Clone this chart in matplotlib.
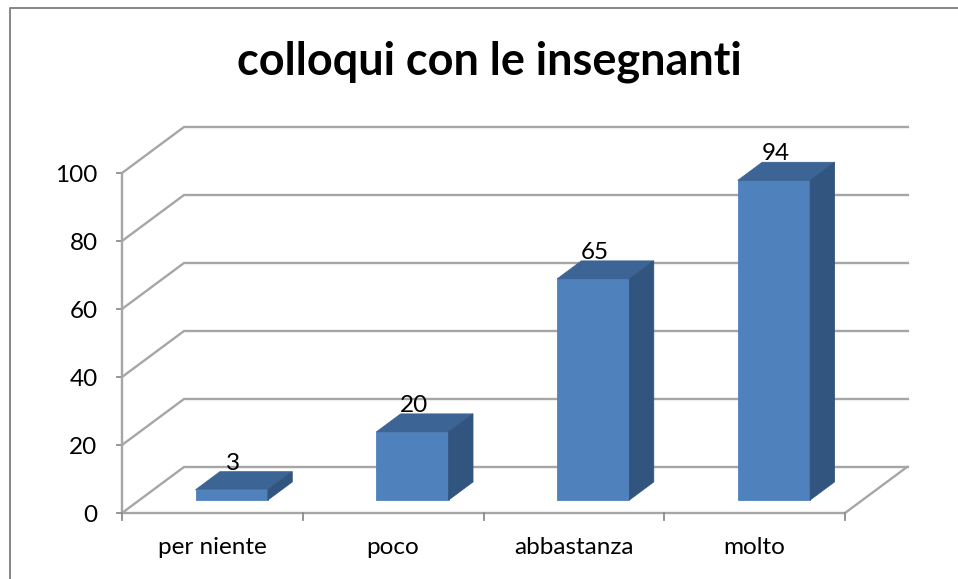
import matplotlib
matplotlib.use("Agg")
import matplotlib.pyplot as plt
from matplotlib.patches import Polygon

categories = ["per niente", "poco", "abbastanza", "molto"]
values = [3, 20, 65, 94]
y_ticks = [0, 20, 40, 60, 80, 100]
title = "colloqui con le insegnanti"

W, H = 958, 579
plt.rcParams["font.family"] = ["Lato", "DejaVu Sans"]
fig = plt.figure(figsize=(W / 100, H / 100), dpi=100)
L, R, B, T = 122, 845, 513, 173
ax = fig.add_axes([L / W, 1 - B / H, (R - L) / W, (B - T) / H])
ax.set_xlim(0, len(categories))
ax.set_ylim(0, 100)
ax.axis("off")

DX = 62 / ((R - L) / len(categories))
DY = 46 / ((B - T) / 100)


def proj(x, v, d):
    return (x + d * DX, v + d * DY)


GRID = "#a6a6a6"
for t in y_ticks:
    pts = [proj(0, t, 0), proj(0, t, 1), proj(len(categories) + 0.005, t, 1)]
    ax.plot(*zip(*pts), color=GRID, lw=1.7, clip_on=False, zorder=1, solid_joinstyle="miter")
    if t == 0:
        pts = [proj(0, 0, 0), proj(len(categories), 0, 0), proj(len(categories), 0, 1)]
        ax.plot(*zip(*pts), color=GRID, lw=1.7, clip_on=False, zorder=1)
    ax.plot([-0.028, 0], [t, t], color="#8c8c8c", lw=1.3, clip_on=False, zorder=1)
    ax.text(-0.135, t - 0.8, str(t), ha="right", va="center", fontsize=17.5, color="black")
ax.plot([0, 0], [0, 100], color=GRID, lw=1.7, clip_on=False, zorder=1)
for i in range(len(categories) + 1):
    ax.plot([i, i], [0, -2.1], color="#8c8c8c", lw=1.3, clip_on=False, zorder=1)
for i, c in enumerate(categories):
    ax.text(i + 0.5, -10.0, c, ha="center", va="center", fontsize=17.5, color="black")

FRONT, TOP, SIDE = "#4f81bd", "#3c6494", "#32557f"
D0, D1 = 0.283, 0.676
BW = 0.4
for i, v in enumerate(values):
    x0, x1 = i + 0.51 - BW / 2, i + 0.51 + BW / 2
    faces = [
        ([proj(x0, 0, D0), proj(x1, 0, D0), proj(x1, v, D0), proj(x0, v, D0)], FRONT),
        ([proj(x0, v, D0), proj(x1, v, D0), proj(x1, v, D1), proj(x0, v, D1)], TOP),
        ([proj(x1, 0, D0), proj(x1, 0, D1), proj(x1, v, D1), proj(x1, v, D0)], SIDE),
    ]
    for p, col in faces:
        ax.add_patch(Polygon(p, closed=True, facecolor=col, edgecolor=col, lw=0.6, zorder=3, clip_on=False))
    lx, ly = proj(i + 0.51, v, D1)
    ax.text(lx - 0.127, ly + 2.5, str(v), ha="center", va="center", fontsize=17.5, color="black", zorder=4)

fig.text(489 / W, 1 - 62 / H, title, ha="center", va="center", fontsize=32.4, fontweight="bold", color="black")
fig.add_artist(plt.Line2D([9.5 / W, 9.5 / W, 1], [0, 1 - 8 / H, 1 - 8 / H], color="#868686", lw=1.4, transform=fig.transFigure))
fig.savefig("out.png", dpi=100)
